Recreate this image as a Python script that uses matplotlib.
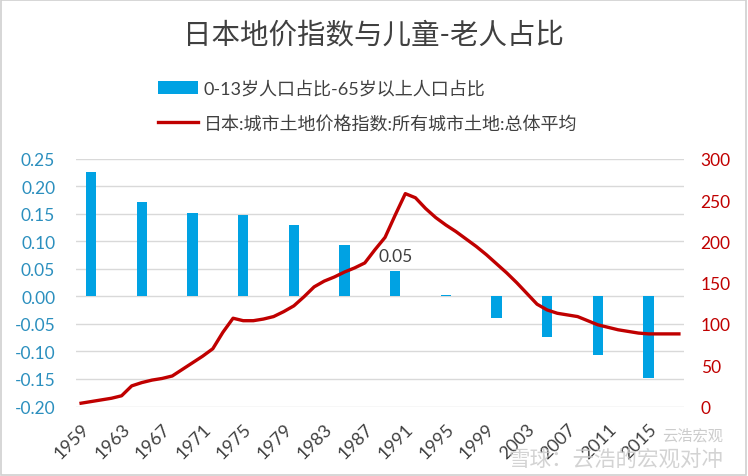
import matplotlib
matplotlib.use('Agg')
import matplotlib.pyplot as plt

plt.rcParams['font.family'] = ['Lato', 'Noto Sans CJK SC', 'DejaVu Sans']
plt.rcParams['axes.unicode_minus'] = False

# 数据
years = list(range(1959, 2019))
land_index = [4, 6, 8, 10, 13, 25, 29, 32, 34, 37, 45, 53, 61, 70, 90, 107,
              104, 104, 106, 109, 115, 122, 133, 145, 152, 157, 163, 168, 174, 190,
              205, 232, 258, 253, 240, 229, 220, 212, 203, 194, 184, 173, 162, 150,
              137, 124, 117, 113, 111, 109, 104, 99, 96, 93, 91, 89, 88, 88, 88, 88]
bar_years = [1960, 1965, 1970, 1975, 1980, 1985, 1990, 1995, 2000, 2005, 2010, 2015]
ratio_diff = [0.227, 0.172, 0.152, 0.149, 0.130, 0.093, 0.046, 0.003,
              -0.039, -0.073, -0.107, -0.149]
tick_years = list(range(1959, 2019, 4))
left_ticks = [-0.20, -0.15, -0.10, -0.05, 0.00, 0.05, 0.10, 0.15, 0.20, 0.25]
right_ticks = [0, 50, 100, 150, 200, 250, 300]

bar_color = '#00A2E3'
line_color = '#C00000'
left_color = '#2B8FBE'
text_color = '#404040'

fig = plt.figure(figsize=(7.48, 4.77), dpi=100)
ax1 = fig.add_axes([0.1016, 0.1457, 0.8128, 0.5189])
ax2 = ax1.twinx()

# 柱状图（左轴）
bars = ax1.bar(bar_years, ratio_diff, width=1.0, color=bar_color, zorder=2,
               label='0-13岁人口占比-65岁以上人口占比')
ax1.text(1990, 0.046 + 0.013, '0.05', ha='center', va='bottom', fontsize=12.5,
         color=text_color)

# 折线（右轴）
line, = ax2.plot(years, land_index, color=line_color, lw=2.4, zorder=3,
                 label='日本:城市土地价格指数:所有城市土地:总体平均')

ax1.set_xlim(1958.5, 2018.5)
ax1.set_ylim(-0.20, 0.25)
ax2.set_ylim(0, 300)
ax1.set_yticks(left_ticks)
ax1.set_yticklabels([f'{v:.2f}' for v in left_ticks])
ax2.set_yticks(right_ticks)
ax1.set_xticks(tick_years)
ax1.set_xticklabels([str(y) for y in tick_years], rotation=45, ha='right',
                    rotation_mode='anchor')

ax1.grid(axis='y', color='#D9D9D9', lw=1, zorder=0)
ax1.set_axisbelow(True)
for ax in (ax1, ax2):
    for s in ax.spines.values():
        s.set_visible(False)
ax1.tick_params(axis='y', length=0, labelsize=12.5, labelcolor=left_color, pad=15)
ax2.tick_params(axis='y', length=0, labelsize=12.5, labelcolor=line_color, pad=12)
ax1.tick_params(axis='x', length=0, labelsize=13, labelcolor=text_color, pad=10)

# 标题
fig.text(0.5, 0.927, '日本地价指数与儿童-老人占比', ha='center', va='center',
         fontsize=20.5, color=text_color)

# 图例
fig.legend(handles=[bars, line], loc='upper left', bbox_to_anchor=(0.19, 0.864),
           frameon=False, fontsize=13, handlelength=2.2, handleheight=0.75,
           labelspacing=1.0, handletextpad=0.3, labelcolor=text_color)

# 水印
fig.text(0.967, 0.085, '云浩宏观', ha='right', va='center',
         fontsize=11, color='#C0C0C0', alpha=0.8)
fig.text(0.967, 0.038, '雪球：云浩的宏观对冲', ha='right', va='center',
         fontsize=15.5, color='#C8C8C8', alpha=0.8)

# 外框
fig.patches.append(plt.Rectangle((0.002, 0.003), 0.995, 0.994, transform=fig.transFigure,
                                 fill=False, edgecolor='#D0D0D0', lw=1.2))

fig.savefig('out.png', dpi=100)
